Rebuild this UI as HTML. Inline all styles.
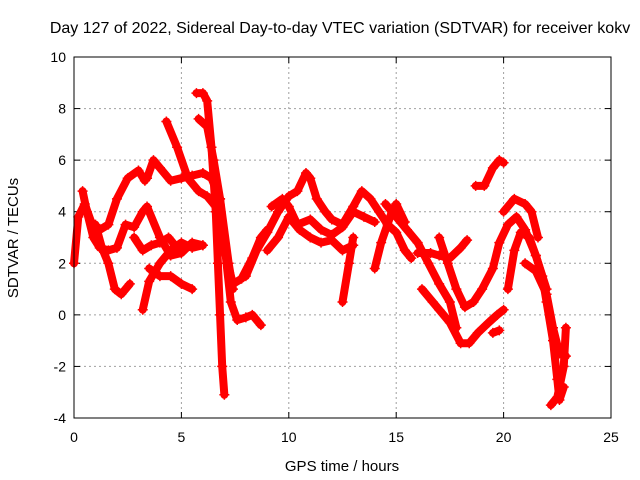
<!DOCTYPE html>
<html><head><meta charset="utf-8"><style>
body{margin:0;background:#fff}
svg{display:block;font-family:"Liberation Sans",sans-serif}
</style></head><body>
<svg id="c" width="640" height="480">
<rect width="640" height="480" fill="#fff"/>
<text x="340" y="33" font-size="16" text-anchor="middle">Day 127 of 2022, Sidereal Day-to-day VTEC variation (SDTVAR) for receiver kokv</text>
<text x="342" y="471" font-size="15" text-anchor="middle">GPS time / hours</text>
<text x="0" y="0" font-size="15" text-anchor="middle" transform="translate(18,238) rotate(-90)">SDTVAR / TECUs</text>
<g id="grid"></g>
<g id="ticks"></g>
<g id="series"></g>
<rect x="74" y="57" width="537" height="361" fill="none" stroke="#000" stroke-width="1"/>
</svg>
<script>
const xTicks=[0,5,10,15,20,25];
const yTicks=[-4,-2,0,2,4,6,8,10];
const tracks=[
[[5.7,8.6],[6.0,8.6],[6.2,8.3],[6.4,6.5],[6.6,4],[6.7,2],[6.8,0],[6.9,-2],[7.0,-3.1]],
[[4.3,7.5],[4.8,6.5],[5.3,5.3],[5.8,4.8],[6.2,4.6],[6.6,4.2],[7.0,2.5],[7.4,1.2],[7.8,1.4],[8.3,2.2],[8.7,3],[9,3.3]],
[[5.8,7.6],[6.2,7.3],[6.5,6],[6.8,4.5],[7.1,2],[7.3,0.5],[7.6,-0.2],[8.0,-0.1],[8.3,0],[8.7,-0.4]],
[[3.4,5.3],[3.7,6.0],[4,5.7],[4.5,5.2],[5,5.3],[5.5,5.4],[6.0,5.5],[6.4,5.3],[6.8,4.5],[7.2,2],[7.4,1]],
[[0,2],[0.2,3.8],[0.5,4.3],[0.8,3.6],[1.2,3.3],[1.6,3.5],[2,4.5],[2.5,5.3],[3,5.6],[3.3,5.2]],
[[0.4,4.8],[0.6,4.0],[0.9,3.0],[1.2,2.6],[1.6,2.5],[2,2.6],[2.4,3.5],[2.8,3.4],[3.2,4.0],[3.4,4.2],[4,3.0],[4.5,2.3],[5,2.4],[5.5,2.8],[6,2.7]],
[[1,3.5],[1.3,2.6],[1.6,2],[1.9,1],[2.2,0.8],[2.6,1.2]],
[[3.2,0.2],[3.5,1.3],[4,2.0],[4.5,2.5],[5,2.8],[5.5,2.6],[6,2.7]],
[[3.5,1.8],[4,1.5],[4.5,1.5],[5,1.2],[5.5,1.0]],
[[2.8,3.0],[3.2,2.5],[3.6,2.7],[4,2.8],[4.4,3.0],[4.8,2.6]],
[[8,1.5],[8.5,2.5],[9,3.2],[9.5,4],[10,4.6],[10.4,4.8],[10.8,5.5],[11,5.3],[11.3,4.5],[11.7,4],[12,3.7],[12.5,3.5],[13,4.2],[13.4,4.8],[13.8,4.5],[14.2,4],[14.6,3.5],[15,3.2],[15.4,2.5],[15.7,2.2]],
[[9,2.5],[9.5,3],[10,3.8],[10.5,3.3],[11,3.0],[11.5,2.8],[12,2.9],[12.5,2.5],[13,2.7]],
[[9.2,4.2],[9.7,4.5],[10,4.2],[10.4,3.5],[11,3.7],[11.5,3.3],[12,3.1],[12.5,3.4],[13,4],[13.5,3.8],[14,3.6]],
[[12.5,0.5],[12.8,2],[13,3]],
[[14,1.8],[14.3,2.8],[14.8,4],[15,4.3],[15.4,3.6]],
[[14.5,4.3],[15,3.8],[15.5,3.3],[16,2.8],[16.5,2],[17,1.2],[17.5,0.5],[17.8,-0.5]],
[[16,2.4],[16.6,2.4],[17,2.3],[17.5,2.2],[18,2.6],[18.3,2.9]],
[[16.2,1],[16.7,0.5],[17,0.2],[17.5,-0.3],[18,-1.1],[18.4,-1.1],[18.8,-0.7],[19.3,-0.3],[19.7,0],[20,0.2]],
[[17,3],[17.4,2],[17.8,1],[18.2,0.3],[18.6,0.5],[19,1],[19.5,1.8],[19.8,2.8],[20.2,3.5],[20.6,3.8],[21,3.3],[21.5,2.3],[22,1]],
[[18.7,5],[19.1,5],[19.5,5.7],[19.8,6],[20,5.9]],
[[19.5,-0.7],[19.8,-0.6]],
[[20,4],[20.5,4.5],[21,4.3],[21.3,4.0],[21.6,3]],
[[20.2,1.0],[20.5,2.5],[20.8,3.2],[21.2,3],[21.5,2.3],[21.8,1.5],[22,0.5],[22.3,-1],[22.5,-2.5],[22.6,-3.3],[22.8,-2.8]],
[[21,2],[21.5,1.7],[22,0.8],[22.3,-0.5],[22.6,-1.5],[22.9,-1.6]],
[[22.2,-3.5],[22.5,-3.2],[22.8,-2],[22.9,-0.5]]
];
const X0=74,X1=611,Y0=418,Y1=57;
function sx(v){return X0+(v-0)/(25-0)*(X1-X0);}
function sy(v){return Y0-(v+4)/(14)*(Y0-Y1);}
const NS='http://www.w3.org/2000/svg';
function mk(t,a,p){const e=document.createElementNS(NS,t);for(const k in a)e.setAttribute(k,a[k]);p.appendChild(e);return e;}
const grid=document.getElementById('grid'),ticks=document.getElementById('ticks'),ser=document.getElementById('series');
xTicks.forEach(v=>{const x=sx(v);
 if(v>0&&v<25){const l=mk('line',{x1:x,x2:x,y1:Y1,y2:Y0,stroke:'#a0a0a0','stroke-dasharray':'2,3'},grid);
 
 }
 mk('line',{x1:x,x2:x,y1:Y0,y2:Y0-6,stroke:'#000'},ticks);
 mk('line',{x1:x,x2:x,y1:Y1,y2:Y1+6,stroke:'#000'},ticks);
 const t=mk('text',{x:x,y:Y0+24,'font-size':14,'text-anchor':'middle'},ticks);t.textContent=v;
 
 
});
yTicks.forEach(v=>{const y=sy(v);
 if(v>-4&&v<10){const l=mk('line',{x1:X0,x2:X1,y1:y,y2:y,stroke:'#a0a0a0','stroke-dasharray':'2,3'},grid);
 
 }
 mk('line',{x1:X0,x2:X0+6,y1:y,y2:y,stroke:'#000'},ticks);
 mk('line',{x1:X1,x2:X1-6,y1:y,y2:y,stroke:'#000'},ticks);
 const t=mk('text',{x:X0-8,y:y+5,'font-size':14,'text-anchor':'end'},ticks);t.textContent=v;
 
 
});
tracks.forEach(tr=>{
 const pl=mk('polyline',{points:tr.map(p=>sx(p[0])+','+sy(p[1])).join(' '),fill:'none',stroke:'#f00','stroke-width':8,'stroke-linejoin':'round','stroke-linecap':'round'},ser);
 
 
 tr.forEach(p=>{const x=sx(p[0]),y=sy(p[1]);
  const m=mk('path',{d:`M${x-5},${y}H${x+5}M${x},${y-5}V${y+5}`,stroke:'#f00','stroke-width':1.5},ser);
  
  
 });
});
</script>
</body></html>
